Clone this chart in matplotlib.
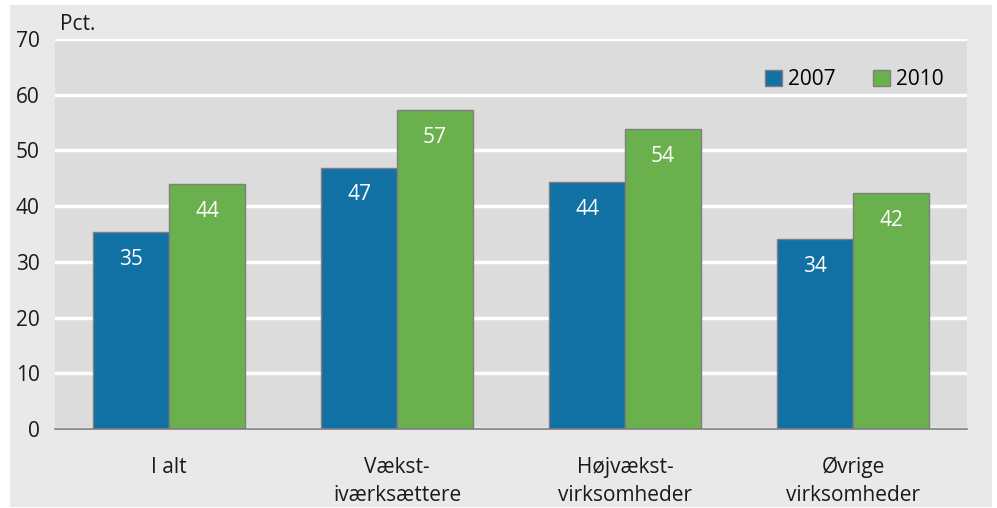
import matplotlib
matplotlib.use("Agg")
import matplotlib.pyplot as plt
from matplotlib.patches import Rectangle
import numpy as np

categories = ["I alt", "Vækst-\niværksættere", "Højvækst-\nvirksomheder", "Øvrige\nvirksomheder"]
series_names = ["2007", "2010"]
values_2007 = [35.4, 46.9, 44.3, 34.1]
values_2010 = [44.0, 57.3, 53.9, 42.4]
labels_2007 = ["35", "47", "44", "34"]
labels_2010 = ["44", "57", "54", "42"]
yticks = [0, 10, 20, 30, 40, 50, 60, 70]

plt.rcParams['font.family'] = ['Open Sans', 'DejaVu Sans']

W, H = 997, 508
fig = plt.figure(figsize=(W/100, H/100), dpi=100)
fig.patch.set_facecolor('white')
fig.patches.append(Rectangle((10/W, 1-507/H), (992-10)/W, (507-5)/H,
                             transform=fig.transFigure, facecolor='#e9e9e9',
                             edgecolor='none', zorder=0))

ax = fig.add_axes([55/W, 1-429/H, (967-55)/W, (429-39)/H])
ax.set_facecolor('#dcdcdc')
ax.set_zorder(1)

x = np.arange(len(categories))
w = 1/3
blue = '#1170a4'
green = '#6ab04c'
ax.bar(x - w/2, values_2007, w, color=blue, edgecolor='#7f7f7f', linewidth=1, label=series_names[0], zorder=3)
ax.bar(x + w/2, values_2010, w, color=green, edgecolor='#7f7f7f', linewidth=1, label=series_names[1], zorder=3)

for xi, v, l in zip(x - w/2, values_2007, labels_2007):
    ax.text(xi, v - 4.9, l, ha='center', va='center', color='white', fontsize=15, zorder=4)
for xi, v, l in zip(x + w/2, values_2010, labels_2010):
    ax.text(xi, v - 4.9, l, ha='center', va='center', color='white', fontsize=15, zorder=4)

ax.set_xlim(-0.5, 3.5)
ax.set_ylim(0, 70)
ax.set_yticks(yticks)
ax.set_yticklabels([str(t) for t in yticks], fontsize=15)
ax.set_xticks(x)
ax.set_xticklabels(categories, fontsize=15, linespacing=1.45)
ax.tick_params(axis='both', length=0, colors='#1a1a1a')
ax.tick_params(axis='y', pad=11)
ax.tick_params(axis='x', pad=20)
ax.grid(axis='y', color='white', linewidth=2.5, zorder=1)
ax.set_axisbelow(True)
for s in ['top', 'right', 'left']:
    ax.spines[s].set_visible(False)
ax.spines['bottom'].set_color('#7f7f7f')
ax.spines['bottom'].set_linewidth(1.2)
ax.spines['bottom'].set_zorder(5)

fig.text(60/W, 1-25/H, "Pct.", fontsize=15, ha='left', va='center', color='#1a1a1a')

ax.legend(loc='upper right', ncol=2, frameon=False, fontsize=15,
          bbox_to_anchor=(0.995, 0.97), handlelength=0.8, handleheight=0.8,
          handletextpad=0.3, columnspacing=1.8)

fig.savefig("out.png", dpi=100, facecolor=fig.get_facecolor())
